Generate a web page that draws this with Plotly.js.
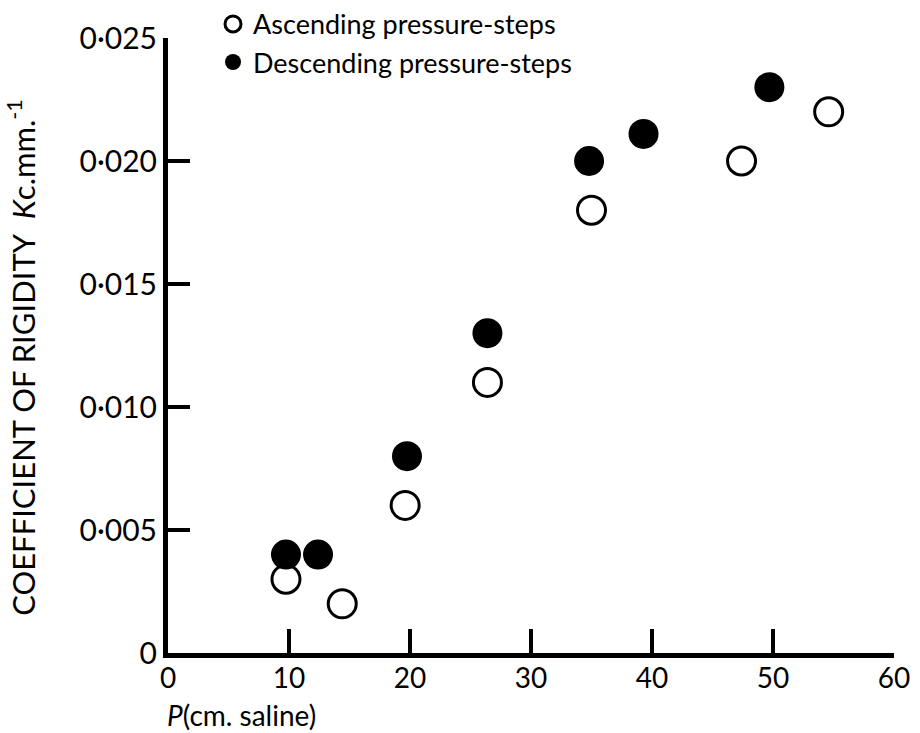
<!DOCTYPE html>
<html>
<head>
<meta charset="utf-8">
<script src="https://cdn.plot.ly/plotly-3.0.1.min.js"></script>
<style>html,body{margin:0;padding:0;background:#fff;}#chart{width:920px;height:733px;}</style>
</head>
<body>
<div id="chart"></div>
<script>
// Ascending pressure-steps (open circles)
const ascP = [9.75, 14.4, 19.6, 26.4, 35.0, 47.4, 54.6];
const ascK = [0.0030, 0.0020, 0.0060, 0.0110, 0.0180, 0.0200, 0.0220];
// Descending pressure-steps (filled circles)
const descP = [9.75, 12.4, 19.75, 26.4, 34.8, 39.3, 49.7];
const descK = [0.0040, 0.0040, 0.0080, 0.0130, 0.0200, 0.0211, 0.0230];

const xTickVals = [0, 10, 20, 30, 40, 50, 60];
const xTickText = ["0", "10", "20", "30", "40", "50", "60"];
const yTickVals = [0, 0.005, 0.010, 0.015, 0.020, 0.025];
const yTickText = ["0", "0·005", "0·010", "0·015", "0·020", "0·025"];

const seriesNames = ["Ascending pressure-steps", "Descending pressure-steps"];

const FONT = "Lato, 'DejaVu Sans', sans-serif";

const traces = [
  {
    x: ascP, y: ascK, name: seriesNames[0], type: "scatter", mode: "markers",
    cliponaxis: false,
    marker: {symbol: "circle-open", size: 28, color: "#000", line: {width: 3, color: "#000"}}
  },
  {
    x: descP, y: descK, name: seriesNames[1], type: "scatter", mode: "markers",
    cliponaxis: false,
    marker: {symbol: "circle", size: 30, color: "#000", line: {width: 0}}
  }
];

const layout = {
  width: 920, height: 733,
  paper_bgcolor: "#fff", plot_bgcolor: "#fff",
  margin: {l: 168, r: 26, t: 38, b: 80, autoexpand: false},
  font: {family: FONT, color: "#000"},
  showlegend: true,
  legend: {
    x: 0.062, y: 1.062, xanchor: "left", yanchor: "top",
    bgcolor: "rgba(0,0,0,0)", font: {size: 27, family: FONT, color: "#000"},
    itemsizing: "trace", tracegroupgap: 0
  },
  xaxis: {
    range: [0, 60], tickmode: "array", tickvals: xTickVals, ticktext: xTickText,
    showgrid: false, zeroline: false, showline: true, linewidth: 5, linecolor: "#000",
    ticks: "inside", ticklen: 24, tickwidth: 4, tickcolor: "#000",
    tickfont: {size: 28, family: FONT, color: "#000"}, ticklabelstandoff: -4
  },
  yaxis: {
    range: [0, 0.025], tickmode: "array", tickvals: yTickVals, ticktext: yTickText,
    showgrid: false, zeroline: false, showline: true, linewidth: 5, linecolor: "#000",
    ticks: "inside", ticklen: 22, tickwidth: 4, tickcolor: "#000",
    tickfont: {size: 30, family: FONT, color: "#000"}
  },
  annotations: [
    {
      xref: "paper", yref: "paper", x: -0.201, y: 0.48, xanchor: "center", yanchor: "middle",
      textangle: -90, showarrow: false,
      text: "COEFFICIENT OF RIGIDITY  <i>K</i>c.mm.<sup>-1</sup>",
      font: {size: 31, family: FONT, color: "#000"}
    },
    {
      xref: "paper", yref: "paper", x: -0.004, y: -0.1, xanchor: "left", yanchor: "middle",
      showarrow: false,
      text: "<i>P</i>(cm. saline)",
      font: {size: 28, family: FONT, color: "#000"}
    }
  ]
};

Plotly.newPlot("chart", traces, layout, {displayModeBar: false, staticPlot: true});
</script>
</body>
</html>
